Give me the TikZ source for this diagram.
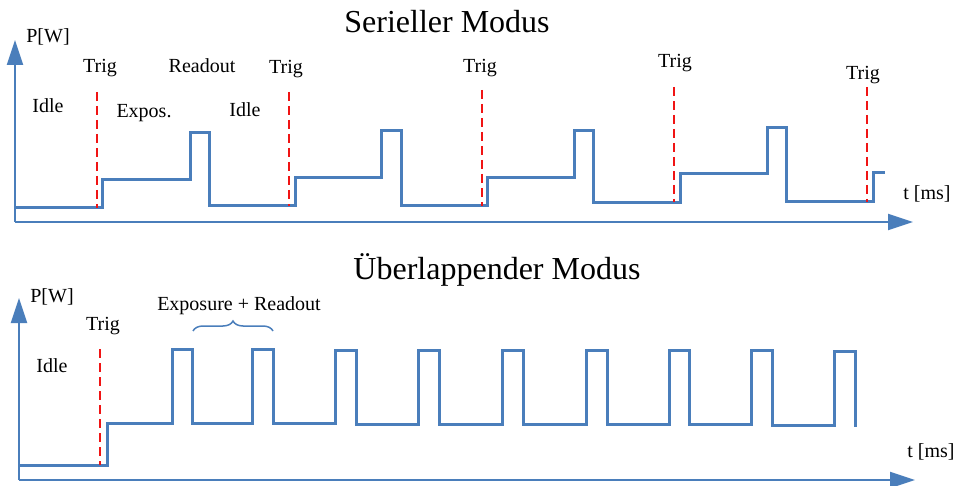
\documentclass[tikz,border=0pt]{standalone}
\usepackage{fontspec}
\setmainfont{Liberation Serif}
\usetikzlibrary{arrows.meta,decorations.pathreplacing}
\definecolor{sigblue}{RGB}{74,126,187}
\definecolor{trigred}{RGB}{240,20,20}
\begin{document}
\begin{tikzpicture}[x=1pt,y=-1pt,
  axis/.style={draw=sigblue,line width=2pt,-{Triangle[length=25pt,width=16pt]}},
  signal/.style={draw=sigblue,line width=3pt,line join=miter},
  trigline/.style={draw=trigred,line width=2pt,dash pattern=on 9pt off 5pt},
  lbl/.style={inner sep=0pt,anchor=base,font=\fontsize{20}{24}\selectfont},
  ttl/.style={inner sep=0pt,anchor=base,font=\fontsize{32}{38}\selectfont},
  bracestyle/.style={draw=sigblue,line width=1.5pt,decorate,decoration={brace,amplitude=10pt}}]
\useasboundingbox (0,0) rectangle (957,486);

% ---------- serial mode ----------
\node[ttl] (t1) at (447,33) {Serieller Modus};
\coordinate (o1) at (15,222);
\draw[axis] (o1) -- (15,40);
\draw[axis] (o1) -- (913,222);
\node[lbl] (pw1) at (48,43) {P[W]};
\node[lbl] (ms1) at (927,200) {t [ms]};

\draw[signal] (15,208) -- (102,208) -- (102,180) -- (190,180) -- (190,133) -- (209,133)
  -- (209,206) -- (295,206) -- (295,178) -- (381,178) -- (381,131) -- (401,131)
  -- (401,206) -- (487,206) -- (487,178) -- (574,178) -- (574,131) -- (593,131)
  -- (593,203) -- (680,203) -- (680,174) -- (767,174) -- (767,128) -- (786,128)
  -- (786,202) -- (873,202) -- (873,173) -- (885,173);

\draw[trigline] (97,92) -- (97,208);
\draw[trigline] (289,92) -- (289,206);
\draw[trigline] (482,90) -- (482,206);
\draw[trigline] (674,87) -- (674,202);
\draw[trigline] (867,87) -- (867,202);

\node[lbl] (tr1) at (100,73) {Trig};
\node[lbl] (ro1) at (202,73) {Readout};
\node[lbl] (tr2) at (286,74) {Trig};
\node[lbl] (tr3) at (480,73) {Trig};
\node[lbl] (tr4) at (675,68) {Trig};
\node[lbl] (tr5) at (863,80) {Trig};
\node[lbl] (id1) at (48,113) {Idle};
\node[lbl] (ex1) at (144,118) {Expos.};
\node[lbl] (id2) at (245,117) {Idle};

% ---------- overlapping mode ----------
\node[ttl] (t2) at (497,279) {Überlappender Modus};
\coordinate (o2) at (19,480);
\draw[axis] (o2) -- (19,298);
\draw[axis] (o2) -- (915,480);
\node[lbl] (pw2) at (52,302) {P[W]};
\node[lbl] (ms2) at (931,457) {t [ms]};

\draw[signal] (19,465) -- (107,465) -- (107,423) -- (172,423) -- (172,349) -- (192,349)
  -- (192,423) -- (252,423) -- (252,349) -- (273,349) -- (273,423)
  -- (335,423) -- (335,350) -- (356,350) -- (356,424)
  -- (418,424) -- (418,350) -- (439,350) -- (439,424)
  -- (502,424) -- (502,350) -- (523,350) -- (523,424)
  -- (586,424) -- (586,350) -- (607,350) -- (607,424)
  -- (669,424) -- (669,350) -- (689,350) -- (689,424)
  -- (751,424) -- (751,350) -- (772,350) -- (772,425)
  -- (834,425) -- (834,351) -- (855,351) -- (855,427);

\draw[trigline] (100,349) -- (100,465);
\node[lbl] (tr6) at (103,330) {Trig};
\node[lbl] (id3) at (52,372) {Idle};

\coordinate (bl) at (193,331);
\coordinate (br) at (273,331);
\draw[bracestyle] (bl) -- (br);
\node[lbl] (er) at (239,310) {Exposure + Readout};
\end{tikzpicture}
\end{document}
